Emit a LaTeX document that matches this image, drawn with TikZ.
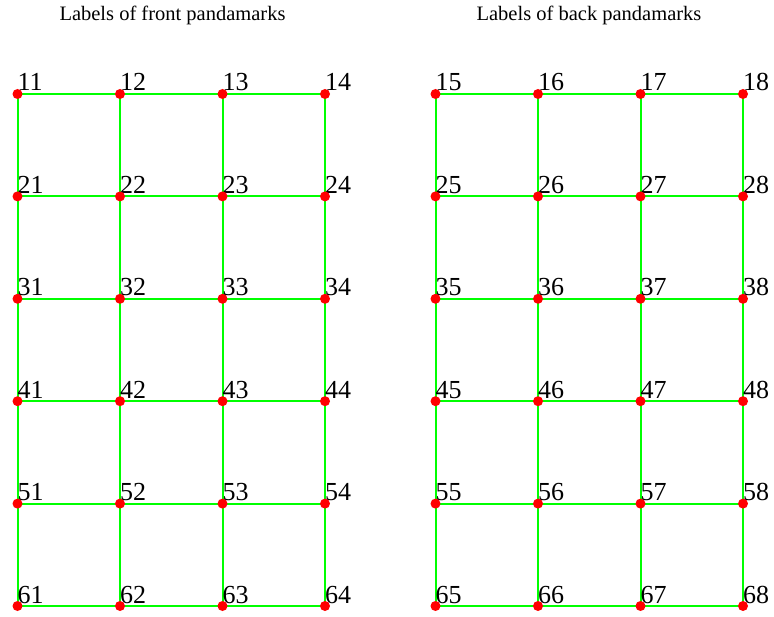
\documentclass[tikz,border=0pt]{standalone}
\usepackage{fontspec}
\setmainfont{Liberation Serif}
\definecolor{gridgreen}{RGB}{0,255,0}
\begin{document}
\begin{tikzpicture}[x=1pt,y=-1pt,
  gridline/.style={draw=gridgreen, line width=2pt},
  dot/.style={circle, fill=red, inner sep=0pt, minimum size=10pt},
  lbl/.style={anchor=base west, inner sep=0pt, font=\fontsize{26}{26}\selectfont},
  ttl/.style={anchor=base, inner sep=0pt, font=\fontsize{20.5}{24}\selectfont}]
\useasboundingbox (0,0) rectangle (774,617);
\node[ttl] (t1) at (172.5,20.7) {Labels of front pandamarks};
\node[ttl] (t2) at (589,20.7) {Labels of back pandamarks};
\foreach \r in {1,...,6}{
  \foreach \c in {1,...,8}{
    \pgfmathsetmacro\xx{\c<5 ? 17.5+102.5*(\c-1) : 435.5+102.5*(\c-5)}
    \pgfmathsetmacro\yy{94+102.4*(\r-1)}
    \coordinate (c\r\c) at (\xx,\yy);
  }
}
\foreach \r in {1,...,6}{
  \foreach \c/\d in {1/2,2/3,3/4,5/6,6/7,7/8}{
    \draw[gridline] (c\r\c) -- (c\r\d);
  }
}
\foreach \r/\s in {1/2,2/3,3/4,4/5,5/6}{
  \foreach \c in {1,...,8}{
    \draw[gridline] (c\r\c) -- (c\s\c);
  }
}
\foreach \r in {1,...,6}{
  \foreach \c in {1,...,8}{
    \node[lbl] (l\r\c) at ([yshift=3pt]c\r\c) {\r\c};
    \node[dot] (d\r\c) at (c\r\c) {};
  }
}
\end{tikzpicture}
\end{document}
